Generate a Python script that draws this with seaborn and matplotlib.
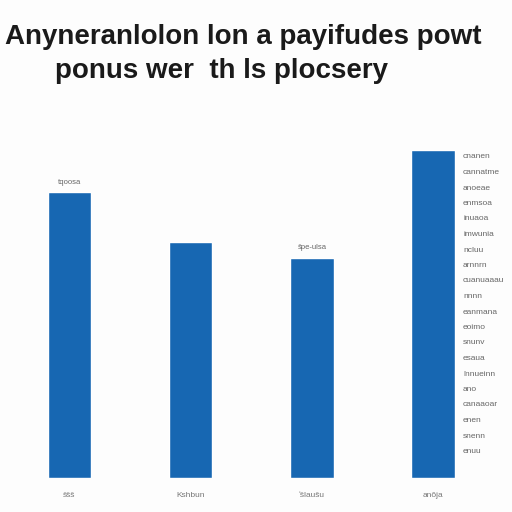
import matplotlib
matplotlib.use("Agg")
import matplotlib.pyplot as plt
import seaborn as sns
import pandas as pd

# chart data
categories = ["ŝŝŝ", "Kshbun", "ʻšlaušu", "anŏja"]
values = [87, 72, 67, 100]
bar_labels = ["tqoosa", "", "ŝpe-ulsa", ""]
title_lines = ["Anyneranlolon lon a payifudes powt", "ponus wer  th ls plocsery"]
side_notes = ["cnanen", "cannatme", "anoeae", "enmsoa", "inuaoa", "imwunia",
              "ncluu", "arnnrn", "cuanuaaau", "nnnn", "eanmana", "eoimo",
              "snunv", "esaua", "lnnueinn", "ano", "canaaoar", "enen",
              "snenn", "enuu"]

sns.set_theme(style="white")
plt.rcParams['font.family'] = ['Liberation Sans', 'DejaVu Sans']

df = pd.DataFrame({"cat": categories, "val": values})

fig = plt.figure(figsize=(5.12, 5.12), dpi=100)
fig.patch.set_facecolor("#fdfdfd")
ax = fig.add_axes([0, 34 / 512, 1, (478 - 120) / 512])
sns.barplot(data=df, x="cat", y="val", color="#1767b2", saturation=1,
            width=0.36, ax=ax)
ax.set_xlim(-0.573, 3.651)
ax.set_ylim(0, 109)
ax.set_facecolor("#fdfdfd")
for s in ax.spines.values():
    s.set_visible(False)
ax.set_yticks([])
ax.set_xlabel("")
ax.set_ylabel("")
ax.tick_params(axis="x", length=0, labelsize=6, labelcolor="#777777", pad=10)

for i, (v, lab) in enumerate(zip(values, bar_labels)):
    if lab:
        ax.text(i, v + 2, lab, ha="center", va="bottom", fontsize=5.5,
                color="#666666")

# title
fig.text(0.01, 1 - 44 / 512, title_lines[0], fontsize=20, fontweight="bold",
         color="#1a1a1a", ha="left", va="baseline")
fig.text(55 / 512, 1 - 78 / 512, title_lines[1], fontsize=20,
         fontweight="bold", color="#1a1a1a", ha="left", va="baseline")

# column of small notes at right
for k, note in enumerate(side_notes):
    fig.text(463 / 512, 1 - (157 + k * 15.5) / 512, note, fontsize=6,
             color="#666666", ha="left", va="center")

fig.savefig("out.png", dpi=100, facecolor=fig.get_facecolor())
